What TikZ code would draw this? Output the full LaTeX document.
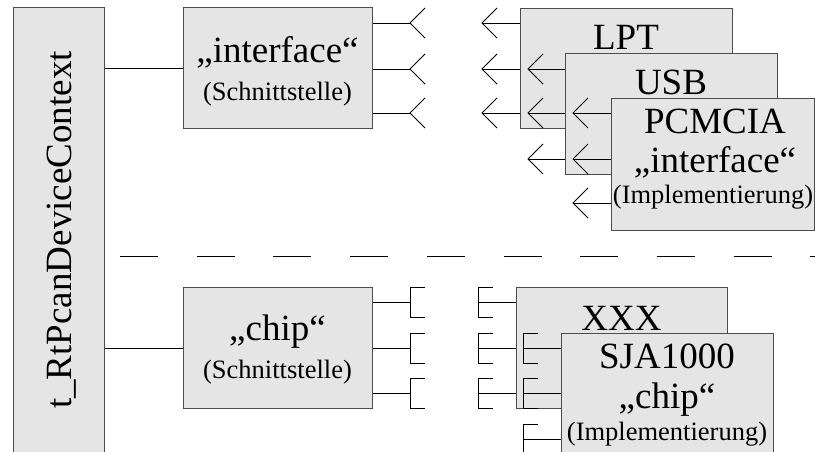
\documentclass[tikz,border=0pt]{standalone}
\usepackage{fontspec}
\setmainfont{Liberation Serif}
\newcommand\mychev[1]{\draw[wire] (#1) ++(15,-15) -- (#1) -- ++(15,15);}
\newcommand\mybrak[1]{\draw[wire] (#1) ++(15,-15) -- ++(-15,0) -- ++(0,30) -- ++(15,0);}
\begin{document}
\begin{tikzpicture}[x=1pt,y=-1pt,
  box/.style={draw=black!70, line width=1.2pt, fill=black!10, inner sep=0pt, anchor=north west},
  wire/.style={draw=black, line width=0.85pt},
  sep/.style={draw=black, line width=0.85pt, dash pattern=on 38pt off 38.7pt},
  big/.style={font=\fontsize{37}{37}\selectfont, anchor=base, inner sep=0pt},
  small/.style={font=\fontsize{26.5}{26.5}\selectfont, anchor=base, inner sep=0pt}]
\useasboundingbox (0,0) rectangle (815,452);

% context box
\node[box, minimum width=91pt, minimum height=470pt] (ctx) at (13,7) {};
\node[big, rotate=90] (ctxl) at (71,230) {t\_RtPcanDeviceContext};

% separator
\coordinate (sepa) at (120,256);
\coordinate (sepb) at (815,256);
\draw[sep] (sepa) -- (sepb);

% interface (Schnittstelle)
\node[box, minimum width=189pt, minimum height=121pt] (iface) at (183,7) {};
\node[big] (ifacel1) at (277.5,63) {„interface“};
\node[small] (ifacel2) at (277.5,101) {(Schnittstelle)};
\draw[wire] (iface.west) -- (iface.west -| ctx.east);
\foreach \i/\y in {1/23,2/69,3/113}{
  \coordinate (ip\i) at (410,\y);
  \draw[wire] (ip\i) -- (ip\i -| iface.east);
  \mychev{ip\i}
}

% chip (Schnittstelle)
\node[box, minimum width=189pt, minimum height=121pt] (chip) at (183,287) {};
\node[big] (chipl1) at (277.5,340) {„chip“};
\node[small] (chipl2) at (277.5,378) {(Schnittstelle)};
\draw[wire] (chip.west) -- (chip.west -| ctx.east);
\foreach \i/\y in {1/302,2/348,3/393}{
  \coordinate (cp\i) at (410,\y);
  \draw[wire] (cp\i) -- (cp\i -| chip.east);
  \mybrak{cp\i}
}

% LPT
\foreach \i/\y in {1/23,2/69,3/113}{
  \coordinate (lp\i) at (482,\y);
  \mychev{lp\i}
}
\node[box, minimum width=212pt, minimum height=120pt] (lpt) at (520,8) {};
\foreach \i in {1,2,3}{\draw[wire] (lp\i) -- (lp\i -| lpt.west);}
\node[big] (lptl) at (626,50) {LPT};

% USB
\foreach \i/\y in {1/69,2/113,3/159}{
  \coordinate (up\i) at (528,\y);
  \mychev{up\i}
}
\node[box, minimum width=212pt, minimum height=121pt] (usb) at (565,53) {};
\foreach \i in {1,2,3}{\draw[wire] (up\i) -- (up\i -| usb.west);}
\node[big] (usbl) at (671,95) {USB};

% PCMCIA
\foreach \i/\y in {1/113,2/159,3/203}{
  \coordinate (pp\i) at (573,\y);
  \mychev{pp\i}
}
\node[box, minimum width=203pt, minimum height=132pt] (pcm) at (611,98) {};
\foreach \i in {1,2,3}{\draw[wire] (pp\i) -- (pp\i -| pcm.west);}
\node[big] (pcml1) at (715,134) {PCMCIA};
\node[big] (pcml2) at (715,172) {„interface“};
\node[small] (pcml3) at (713,204) {(Implementierung)};

% XXX
\foreach \i/\y in {1/302,2/348,3/393}{
  \coordinate (xp\i) at (478,\y);
  \mybrak{xp\i}
}
\node[box, minimum width=211pt, minimum height=121pt] (xxx) at (516,287) {};
\foreach \i in {1,2,3}{\draw[wire] (xp\i) -- (xp\i -| xxx.west);}
\node[big] (xxxl) at (621.5,330) {XXX};

% SJA1000
\foreach \i/\y in {1/348,2/393,3/439}{
  \coordinate (sp\i) at (523,\y);
  \mybrak{sp\i}
}
\node[box, minimum width=212pt, minimum height=140pt] (sja) at (561,333) {};
\foreach \i in {1,2,3}{\draw[wire] (sp\i) -- (sp\i -| sja.west);}
\node[big] (sjal1) at (667,368) {SJA1000};
\node[big] (sjal2) at (667,408) {„chip“};
\node[small] (sjal3) at (667,440) {(Implementierung)};
\end{tikzpicture}
\end{document}
